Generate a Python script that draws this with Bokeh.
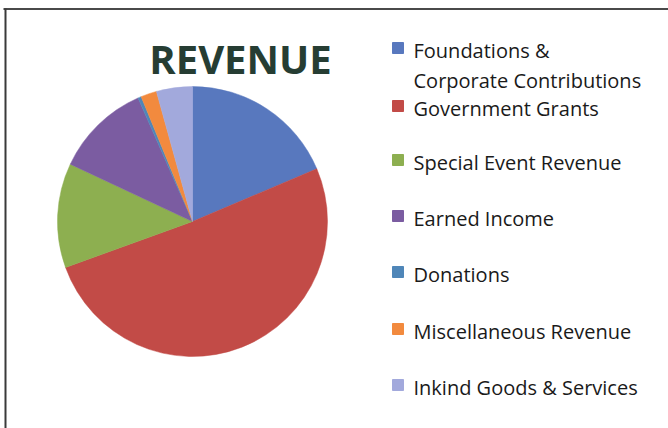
import numpy as np
from bokeh.plotting import figure
from bokeh.models import ColumnDataSource, Range1d
from bokeh.core.properties import value
from bokeh.embed import file_html
from bokeh.resources import INLINE

# ---- data ----
categories = [
    "Foundations &\nCorporate Contributions",
    "Government Grants",
    "Special Event Revenue",
    "Earned Income",
    "Donations",
    "Miscellaneous Revenue",
    "Inkind Goods & Services",
]
shares = [18.6, 50.8, 12.5, 11.4, 0.4, 1.9, 4.3]
colors = ["#5878BE", "#C24B47", "#8DAF50", "#7B5CA1", "#4F86B8", "#F28A3E", "#A2A9DC"]
title_text = "REVENUE"

# ---- layout (page pixel coordinates, y downward) ----
W, H = 668, 428
def Y(y):
    return H - y

cx, cy, r = 192, 221, 135
legend_font = 20
title_font = 40
legend_baselines = [58, 116, 170, 226, 282, 339, 395]
line_step = 30
text_x = 413
swatch_x = 397.5
swatch_size = 11
shift_legend = 0.4 * legend_font
shift_title = 0.4 * title_font

p = figure(width=W, height=H, x_range=Range1d(0, W), y_range=Range1d(0, H),
           output_backend="svg", toolbar_location=None,
           x_axis_location=None, y_axis_location=None, min_border=0)
p.grid.visible = False
p.outline_line_color = None
p.background_fill_color = "white"
p.border_fill_color = "white"

vals = np.array(shares, dtype=float)
frac = vals / vals.sum()
cum = np.concatenate([[0.0], np.cumsum(frac)]) * 2 * np.pi
theta1, theta2 = cum[:-1], cum[1:]
src = ColumnDataSource(dict(
    start=np.pi / 2 - theta2,
    end=np.pi / 2 - theta1,
    color=colors,
))
p.wedge(x=cx, y=Y(cy), radius=r, start_angle="start", end_angle="end",
        fill_color="color", line_color="color", line_width=0.5, source=src)

# title
p.text(x=[240], y=[Y(74 - shift_title)], text=[title_text], text_font=value("Open Sans"),
       text_font_size=f"{title_font}px", text_font_style="bold", text_color="#263D33",
       text_align="center", text_baseline="alphabetic")

# legend
tx, ty, tt = [], [], []
for cat, base in zip(categories, legend_baselines):
    for i, line in enumerate(cat.split("\n")):
        tx.append(text_x)
        ty.append(Y(base + i * line_step - shift_legend))
        tt.append(line)
p.text(x=tx, y=ty, text=tt, text_font=value("Open Sans"), text_font_size=f"{legend_font}px",
       text_color="#1A1A1A", text_align="left", text_baseline="alphabetic")
p.rect(x=[swatch_x] * len(categories), y=[Y(b - 10.5) for b in legend_baselines],
       width=swatch_size, height=swatch_size, fill_color=colors, line_color=colors)

# frame lines (top and left)
p.line(x=[3, W], y=[Y(8.5), Y(8.5)], line_color="#4A4A4A", line_width=2)
p.line(x=[5, 5], y=[Y(8), Y(H)], line_color="#3A3A3A", line_width=2)

open("out.html", "w").write(file_html(p, INLINE))
